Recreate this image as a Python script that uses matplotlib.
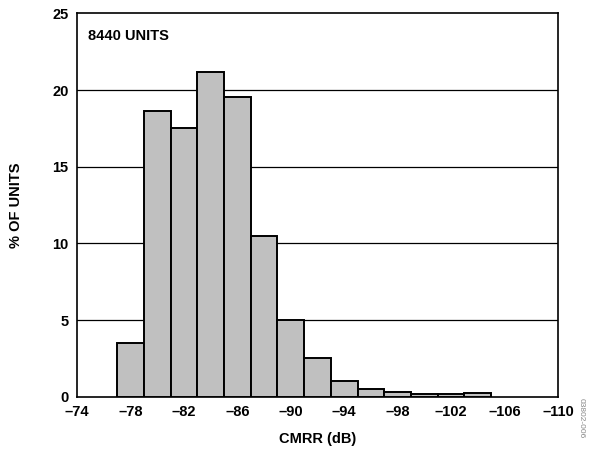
import numpy as np
import matplotlib.pyplot as plt

plt.rcParams['font.family'] = ['Liberation Sans', 'DejaVu Sans']
plt.rcParams['font.weight'] = 'bold'

# histogram bins (dB) and % of units in each bin
bin_edges = [-77, -79, -81, -83, -85, -87, -89, -91, -93, -95, -97, -99, -101, -103, -105]
pct_units = [3.5, 18.6, 17.55, 21.2, 19.55, 10.5, 5.0, 2.55, 1.05, 0.55, 0.35, 0.2, 0.2, 0.25]

x_ticks = [-74, -78, -82, -86, -90, -94, -98, -102, -106, -110]
y_ticks = [0, 5, 10, 15, 20, 25]

fig = plt.figure(figsize=(5.89, 4.57), dpi=100)
ax = fig.add_axes([0.1307, 0.1313, 0.8167, 0.8397])

lefts = np.array(bin_edges[:-1])
widths = np.diff(bin_edges)
ax.bar(lefts, pct_units, width=widths, align='edge', color='#c0c0c0',
       edgecolor='black', linewidth=1.4, zorder=3)

# horizontal grid
for yv in y_ticks[1:-1]:
    ax.axhline(yv, color='black', linewidth=0.9, zorder=1)

ax.set_xlim(-74, -110)
ax.set_ylim(0, 25)
ax.set_xticks(x_ticks)
ax.set_xticklabels(['\u2013' + str(abs(v)) for v in x_ticks])
ax.set_yticks(y_ticks)
ax.tick_params(length=0, labelsize=10.5, pad=6)
for lab in ax.get_xticklabels() + ax.get_yticklabels():
    lab.set_fontweight('bold')
for s in ax.spines.values():
    s.set_linewidth(1.2)

ax.set_xlabel('CMRR (dB)', fontsize=10.5, fontweight='bold', labelpad=9)
ax.set_ylabel('% OF UNITS', fontsize=10.5, fontweight='bold', labelpad=21)

ax.text(0.023, 0.94, '8440 UNITS', transform=ax.transAxes, fontsize=10.5,
        fontweight='bold', va='center', ha='left')

fig.text(0.987, 0.085, '03802-006', rotation=270, fontsize=6, color='#888888',
         fontweight='normal', ha='center', va='center')

fig.savefig('out.png', dpi=100)
